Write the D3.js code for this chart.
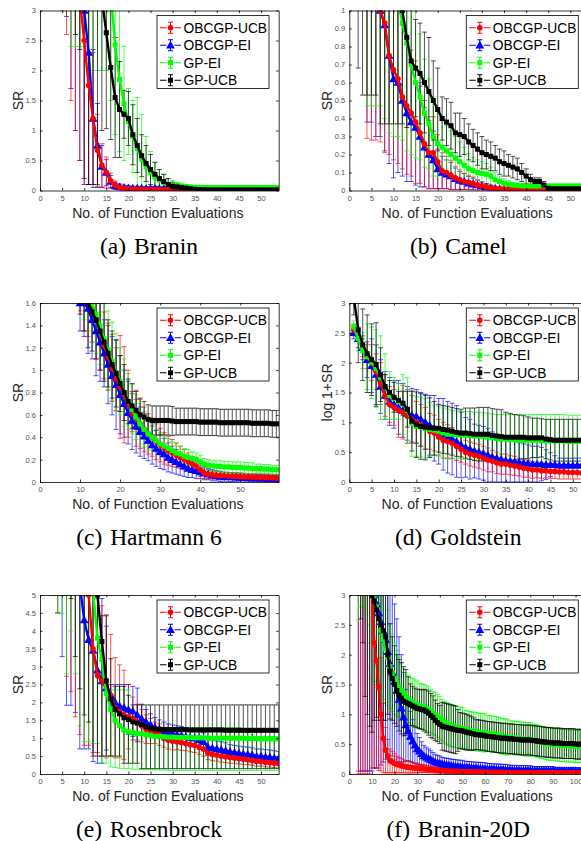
<!DOCTYPE html>
<html lang="en">
<head>
<meta charset="utf-8">
<title>Simple regret vs. function evaluations</title>
<script src="https://d3js.org/d3.v7.min.js"></script>
<style>
  body { margin: 0; background: #fff; }
  svg { display: block; }
</style>
</head>
<body>
<svg id="fig" width="581" height="841"></svg>
<script>

// ---------- tick labels ----------
var xTicks5 = [0, 5, 10, 15, 20, 25, 30, 35, 40, 45, 50];
var xTicks10 = [0, 10, 20, 30, 40, 50];
var xTicks100 = [0, 10, 20, 30, 40, 50, 60, 70, 80, 90, 100];
var yTicks3 = [0, 0.5, 1, 1.5, 2, 2.5, 3];
var yTicks1 = [0, 0.1, 0.2, 0.3, 0.4, 0.5, 0.6, 0.7, 0.8, 0.9, 1];
var yTicks16 = [0, 0.2, 0.4, 0.6, 0.8, 1, 1.2, 1.4, 1.6];
var yTicks5 = [0, 0.5, 1, 1.5, 2, 2.5, 3, 3.5, 4, 4.5, 5];

// ---------- series ----------
var seriesNames = ["OBCGP-UCB", "OBCGP-EI", "GP-EI", "GP-UCB"];
var seriesColors = ["#ff0000", "#0000ff", "#00ff00", "#000000"];
var seriesMarkers = ["circle", "triangle", "square", "square"];
var drawOrder = [1, 0, 2, 3];

// (a) Branin, x = 1..54
var braninUcbMean = [6.0,5.8,5.5,5.2,4.9,4.5,4.0,3.6,3.2,2.5, 1.75,1.2,0.67,0.42,0.3,0.16,0.09,0.05,0.035,0.025, 0.02,0.02,0.018,0.017,0.016,0.015,0.014,0.013,0.012,0.012, 0.011,0.011,0.01,0.01,0.01,0.01,0.009,0.009,0.009,0.009, 0.009,0.008,0.008,0.008,0.008,0.008,0.008,0.008,0.008,0.008, 0.008,0.008,0.008,0.008];
var braninUcbErr = [2.0,2.0,2.0,2.0,1.9,1.9,2.5,2.6,2.7,2.4, 1.65,1.1,0.6,0.36,0.26,0.13,0.07,0.045,0.03,0.025, 0.02,0.02,0.018,0.017,0.016,0.015,0.014,0.013,0.012,0.012, 0.011,0.011,0.01,0.01,0.01,0.01,0.01,0.01,0.01,0.01, 0.01,0.01,0.01,0.01,0.01,0.01,0.01,0.01,0.01,0.01, 0.01,0.01,0.01,0.01];
var braninEiMean = [6.5,6.2,6.0,5.8,5.5,5.0,4.5,4.0,3.5,3.0, 2.3,1.2,0.75,0.4,0.3,0.15,0.08,0.06,0.05,0.045, 0.04,0.04,0.038,0.036,0.035,0.034,0.033,0.032,0.031,0.03, 0.03,0.029,0.028,0.027,0.026,0.025,0.025,0.024,0.023,0.022, 0.022,0.021,0.02,0.02,0.02,0.02,0.019,0.019,0.018,0.018, 0.018,0.017,0.017,0.017];
var braninEiErr = [2.0,2.0,2.0,2.0,2.0,2.1,2.8,3.0,3.0,2.9, 2.2,1.15,0.7,0.35,0.22,0.1,0.06,0.05,0.04,0.035, 0.03,0.03,0.03,0.03,0.03,0.03,0.03,0.03,0.03,0.03, 0.028,0.028,0.027,0.026,0.025,0.025,0.025,0.024,0.023,0.022, 0.022,0.021,0.02,0.02,0.02,0.02,0.019,0.019,0.018,0.018, 0.018,0.017,0.017,0.017];
var braninGpEiMean = [6.5,6.3,6.1,5.9,5.7,5.5,5.0,5.0,5.0,5.0, 4.8,4.6,4.4,4.2,4.0,3.3,2.43,1.85,1.45,1.15, 0.9,0.7,0.52,0.4,0.3,0.22,0.17,0.13,0.1,0.09, 0.08,0.07,0.065,0.06,0.055,0.05,0.05,0.05,0.05,0.05, 0.05,0.05,0.05,0.05,0.05,0.05,0.05,0.05,0.05,0.05, 0.05,0.05,0.05,0.05];
var braninGpEiErr = [2.0,2.0,2.0,2.0,2.0,2.0,2.6,2.6,2.6,2.6, 2.6,2.6,2.4,2.2,2.0,1.8,1.5,1.2,0.95,0.55, 0.6,0.85,0.75,0.5,0.35,0.25,0.18,0.14,0.1,0.08, 0.06,0.05,0.04,0.03,0.025,0.02,0.02,0.02,0.02,0.02, 0.02,0.02,0.02,0.02,0.02,0.02,0.02,0.02,0.02,0.02, 0.02,0.02,0.02,0.02];
var braninGpUcbMean = [7.0,6.8,6.6,6.4,6.2,6.0,5.5,5.0,5.0,4.8, 4.5,4.2,3.8,3.2,2.63,2.05,1.55,1.35,1.27,1.2, 0.93,0.75,0.58,0.45,0.35,0.27,0.2,0.15,0.1,0.07, 0.06,0.05,0.04,0.03,0.02,0.015,0.012,0.01,0.01,0.01, 0.01,0.01,0.01,0.01,0.01,0.01,0.01,0.01,0.01,0.01, 0.01,0.01,0.01,0.01];
var braninGpUcbErr = [2.0,2.0,2.0,2.0,2.0,2.0,2.4,2.4,2.65,4.6, 4.4,4.1,3.7,2.2,1.6,1.2,1.0,0.8,0.4,0.45, 0.5,0.45,0.35,0.3,0.25,0.2,0.15,0.12,0.1,0.07, 0.06,0.05,0.04,0.03,0.02,0.015,0.012,0.01,0.01,0.01, 0.01,0.01,0.01,0.01,0.01,0.01,0.01,0.01,0.01,0.01, 0.01,0.01,0.01,0.01];

// (b) Camel, x = 1..54
var camelUcbMean = [1.6,1.5,1.4,1.2,1.15,1.1,1.0,0.93,0.75,0.67, 0.62,0.52,0.47,0.43,0.38,0.32,0.26,0.21,0.21,0.16, 0.11,0.1,0.085,0.07,0.06,0.05,0.045,0.04,0.03,0.025, 0.02,0.015,0.012,0.01,0.008,0.006,0.005,0.005,0.005,0.005, 0.005,0.004,0.004,0.004,0.004,0.004,0.004,0.004,0.004,0.004, 0.004,0.004,0.004,0.004];
var camelUcbErr = [0.5,0.4,0.3,0.91,0.87,0.82,0.73,0.72,0.55,0.5, 0.47,0.4,0.38,0.35,0.34,0.28,0.24,0.2,0.2,0.15, 0.1,0.09,0.08,0.065,0.055,0.045,0.04,0.035,0.028,0.022, 0.018,0.014,0.011,0.009,0.007,0.006,0.005,0.005,0.005,0.005, 0.005,0.004,0.004,0.004,0.004,0.004,0.004,0.004,0.004,0.004, 0.004,0.004,0.004,0.004];
var camelEiMean = [1.6,1.5,1.4,1.3,1.25,1.15,1.0,0.92,0.75,0.62, 0.6,0.5,0.43,0.38,0.35,0.3,0.24,0.2,0.17,0.12, 0.1,0.09,0.08,0.065,0.055,0.05,0.04,0.035,0.03,0.025, 0.02,0.015,0.012,0.01,0.008,0.006,0.005,0.005,0.004,0.004, 0.004,0.004,0.003,0.003,0.003,0.003,0.003,0.003,0.003,0.003, 0.003,0.003,0.003,0.003];
var camelEiErr = [0.5,0.4,0.3,0.92,0.87,0.85,0.7,0.7,0.6,0.55, 0.5,0.42,0.38,0.33,0.32,0.28,0.22,0.19,0.16,0.11, 0.09,0.08,0.075,0.06,0.05,0.045,0.038,0.033,0.028,0.023, 0.018,0.014,0.011,0.009,0.007,0.006,0.005,0.005,0.004,0.004, 0.004,0.004,0.003,0.003,0.003,0.003,0.003,0.003,0.003,0.003, 0.003,0.003,0.003,0.003];
var camelGpEiMean = [1.6,1.55,1.5,1.45,1.4,1.35,1.3,1.25,1.2,1.15, 1.05,0.93,0.82,0.7,0.6,0.52,0.43,0.37,0.3,0.26, 0.24,0.22,0.2,0.18,0.16,0.14,0.12,0.11,0.1,0.095, 0.09,0.08,0.06,0.05,0.04,0.035,0.03,0.028,0.026,0.025, 0.025,0.025,0.025,0.025,0.025,0.025,0.025,0.025,0.025,0.025, 0.025,0.025,0.025,0.025];
var camelGpEiErr = [0.4,0.4,0.4,0.98,0.93,0.88,0.83,0.85,0.88,0.85, 0.75,0.65,0.6,0.5,0.42,0.35,0.3,0.25,0.22,0.18, 0.15,0.14,0.13,0.12,0.11,0.1,0.085,0.075,0.07,0.065, 0.06,0.05,0.04,0.03,0.025,0.02,0.015,0.013,0.012,0.01, 0.01,0.01,0.01,0.01,0.01,0.01,0.01,0.01,0.01,0.01, 0.01,0.01,0.01,0.01];
var camelGpUcbMean = [1.8,1.7,1.6,1.55,1.5,1.45,1.4,1.35,1.3,1.2, 1.1,1.0,0.85,0.72,0.68,0.65,0.6,0.55,0.5,0.45, 0.4,0.38,0.36,0.32,0.31,0.3,0.27,0.25,0.23,0.21, 0.2,0.19,0.18,0.16,0.15,0.14,0.13,0.12,0.1,0.08, 0.06,0.05,0.05,0.03,0.012,0.01,0.01,0.01,0.01,0.01, 0.01,0.01,0.01,0.01];
var camelGpUcbErr = [0.7,1.02,1.07,1.02,0.97,0.92,1.03,0.98,0.93,0.83, 0.73,0.63,0.5,0.3,0.27,0.28,0.28,0.3,0.22,0.23, 0.12,0.13,0.13,0.11,0.12,0.1,0.1,0.09,0.09,0.09, 0.08,0.08,0.07,0.07,0.07,0.06,0.06,0.06,0.05,0.04, 0.03,0.02,0.02,0.02,0.01,0.01,0.01,0.01,0.01,0.01, 0.01,0.01,0.01,0.01];

// (c) Hartmann 6, x = 10..60
var hartUcbMean = [1.7,1.65,1.6,1.55,1.45,1.35,1.22,1.12,1.02,0.92, 0.85,0.78,0.7,0.62,0.57,0.52,0.47,0.43,0.4,0.36, 0.33,0.3,0.28,0.26,0.24,0.22,0.2,0.18,0.16,0.14, 0.11,0.08,0.07,0.065,0.06,0.058,0.056,0.054,0.052,0.05, 0.048,0.046,0.045,0.044,0.042,0.04,0.04,0.038,0.037,0.036, 0.035];
var hartUcbErr = [0.17,0.3,0.3,0.3,0.35,0.35,0.3,0.3,0.3,0.28, 0.46,0.43,0.3,0.17,0.25,0.22,0.2,0.18,0.17,0.16, 0.15,0.14,0.13,0.12,0.11,0.1,0.09,0.08,0.07,0.06, 0.06,0.05,0.04,0.04,0.035,0.035,0.03,0.03,0.03,0.03, 0.03,0.03,0.03,0.03,0.03,0.03,0.03,0.03,0.03,0.03, 0.03];
var hartEiMean = [1.6,1.6,1.55,1.45,1.35,1.25,1.15,1.05,0.95,0.87, 0.78,0.7,0.62,0.55,0.5,0.45,0.41,0.37,0.33,0.3, 0.27,0.25,0.22,0.2,0.18,0.16,0.14,0.12,0.11,0.1, 0.09,0.08,0.07,0.06,0.055,0.05,0.048,0.046,0.044,0.042, 0.04,0.038,0.036,0.035,0.034,0.033,0.032,0.031,0.03,0.03, 0.03];
var hartEiErr = [0.25,0.3,0.4,0.35,0.4,0.35,0.3,0.35,0.35,0.4, 0.35,0.3,0.28,0.26,0.24,0.22,0.2,0.18,0.17,0.16, 0.15,0.14,0.13,0.12,0.11,0.1,0.09,0.08,0.07,0.07, 0.06,0.06,0.05,0.05,0.045,0.045,0.04,0.04,0.04,0.04, 0.04,0.04,0.035,0.035,0.035,0.035,0.03,0.03,0.03,0.03, 0.03];
var hartGpEiMean = [1.9,1.8,1.7,1.6,1.5,1.4,1.28,1.18,1.08,0.98, 0.9,0.8,0.72,0.65,0.58,0.52,0.47,0.43,0.4,0.37, 0.34,0.32,0.3,0.28,0.26,0.25,0.23,0.22,0.21,0.2, 0.18,0.16,0.15,0.145,0.14,0.14,0.135,0.135,0.13,0.13, 0.13,0.125,0.125,0.12,0.12,0.12,0.115,0.115,0.11,0.11, 0.11];
var hartGpEiErr = [0.3,0.35,0.35,0.35,0.35,0.35,0.35,0.35,0.35,0.35, 0.3,0.3,0.25,0.22,0.2,0.18,0.16,0.14,0.12,0.1, 0.1,0.09,0.09,0.08,0.08,0.07,0.07,0.07,0.06,0.06, 0.06,0.05,0.05,0.05,0.05,0.05,0.05,0.05,0.05,0.05, 0.05,0.05,0.05,0.05,0.04,0.04,0.04,0.04,0.04,0.04, 0.04];
var hartGpUcbMean = [1.9,1.75,1.6,1.52,1.45,1.35,1.25,1.15,1.05,0.97, 0.88,0.8,0.72,0.68,0.64,0.6,0.58,0.56,0.55,0.55, 0.55,0.55,0.55,0.545,0.54,0.54,0.54,0.54,0.54,0.54, 0.535,0.535,0.535,0.535,0.535,0.53,0.53,0.53,0.53,0.53, 0.53,0.53,0.53,0.525,0.525,0.525,0.525,0.525,0.52,0.52, 0.52];
var hartGpUcbErr = [0.4,0.4,0.4,0.35,0.35,0.35,0.35,0.3,0.3,0.3, 0.25,0.25,0.2,0.2,0.17,0.15,0.14,0.13,0.13,0.13, 0.13,0.13,0.13,0.13,0.12,0.12,0.12,0.12,0.12,0.12, 0.12,0.12,0.12,0.12,0.12,0.12,0.12,0.12,0.12,0.12, 0.12,0.12,0.12,0.12,0.12,0.12,0.12,0.12,0.12,0.12, 0.12];

// (d) Goldstein, x = 1..54
var goldUcbMean = [2.55,2.45,2.25,2.1,2.0,1.85,1.65,1.45,1.3,1.25, 1.2,1.17,1.1,1.05,1.0,0.95,0.9,0.85,0.82,0.75, 0.7,0.68,0.65,0.6,0.55,0.5,0.47,0.45,0.43,0.4, 0.37,0.35,0.32,0.3,0.3,0.28,0.27,0.25,0.23,0.22, 0.2,0.2,0.19,0.19,0.18,0.18,0.17,0.17,0.16,0.16, 0.16,0.15,0.15,0.15];
var goldUcbErr = [0.1,0.1,0.15,0.2,0.3,0.3,0.35,0.35,0.3,0.3, 0.45,0.45,0.45,0.4,0.35,0.35,0.35,0.3,0.3,0.3, 0.3,0.28,0.26,0.24,0.22,0.2,0.2,0.2,0.2,0.2, 0.2,0.18,0.18,0.17,0.17,0.16,0.16,0.15,0.15,0.14, 0.14,0.13,0.13,0.12,0.12,0.12,0.12,0.12,0.11,0.11, 0.11,0.1,0.1,0.1];
var goldEiMean = [2.5,2.4,2.25,2.05,1.95,1.8,1.6,1.45,1.35,1.3, 1.25,1.2,1.15,1.12,1.1,1.05,1.0,0.95,0.9,0.85, 0.8,0.75,0.72,0.68,0.62,0.58,0.55,0.52,0.5,0.48, 0.45,0.42,0.4,0.38,0.36,0.35,0.34,0.33,0.32,0.31, 0.3,0.3,0.3,0.29,0.29,0.29,0.28,0.28,0.28,0.28, 0.28,0.28,0.28,0.28];
var goldEiErr = [0.1,0.15,0.2,0.3,0.45,0.5,0.45,0.4,0.4,0.4, 0.45,0.45,0.45,0.45,0.45,0.45,0.45,0.5,0.55,0.55, 0.6,0.6,0.6,0.6,0.55,0.5,0.5,0.45,0.45,0.45, 0.45,0.42,0.4,0.38,0.36,0.35,0.34,0.33,0.32,0.31, 0.3,0.3,0.28,0.25,0.2,0.15,0.12,0.12,0.12,0.12, 0.12,0.12,0.12,0.12];
var goldGpEiMean = [2.6,2.4,2.2,2.1,2.0,1.9,1.75,1.6,1.45,1.4, 1.35,1.3,1.2,0.98,0.93,0.92,0.9,0.88,0.87,0.85, 0.82,0.8,0.8,0.79,0.79,0.78,0.78,0.77,0.77,0.76, 0.75,0.74,0.73,0.72,0.72,0.71,0.71,0.7,0.7,0.7, 0.7,0.7,0.69,0.69,0.69,0.69,0.69,0.69,0.68,0.68, 0.68,0.68,0.68,0.68];
var goldGpEiErr = [0.1,0.2,0.3,0.55,0.6,0.65,0.7,0.55,0.4,0.35, 0.3,0.5,0.55,0.55,0.5,0.5,0.5,0.45,0.42,0.42, 0.42,0.42,0.4,0.4,0.4,0.4,0.4,0.4,0.4,0.4, 0.4,0.4,0.4,0.41,0.42,0.42,0.42,0.43,0.43,0.43, 0.43,0.43,0.44,0.44,0.44,0.44,0.44,0.44,0.44,0.44, 0.44,0.44,0.44,0.44];
var goldGpUcbMean = [3.1,2.55,2.3,2.15,2.05,1.97,1.8,1.6,1.5,1.42, 1.37,1.32,1.22,1.02,0.96,0.93,0.92,0.91,0.9,0.9, 0.88,0.87,0.85,0.83,0.82,0.82,0.81,0.8,0.8,0.8, 0.8,0.78,0.77,0.76,0.75,0.75,0.75,0.75,0.75,0.74, 0.74,0.74,0.74,0.72,0.71,0.7,0.7,0.7,0.7,0.7, 0.7,0.7,0.7,0.7];
var goldGpUcbErr = [0.3,0.55,0.6,0.65,0.6,0.7,0.45,0.2,0.2,0.25, 0.15,0.2,0.3,0.5,0.55,0.55,0.55,0.5,0.45,0.4, 0.4,0.4,0.4,0.4,0.4,0.42,0.43,0.44,0.45,0.45, 0.45,0.45,0.45,0.45,0.42,0.4,0.38,0.37,0.36,0.35, 0.33,0.33,0.32,0.33,0.34,0.35,0.35,0.35,0.35,0.35, 0.35,0.35,0.35,0.35];

// (e) Rosenbrock, x = 1..54 (GP runs have uneven lower / upper bounds)
var roseUcbMean = [9.0,8.5,8.0,7.5,7.0,6.0,5.6,5.4,5.2,5.1, 5.0,3.5,2.75,2.6,2.45,2.2,1.85,1.75,1.65,1.6, 1.55,1.45,1.35,1.25,1.2,1.15,1.1,1.0,0.95,0.92, 0.9,0.88,0.85,0.82,0.8,0.75,0.7,0.58,0.55,0.53, 0.5,0.48,0.46,0.45,0.43,0.42,0.4,0.38,0.36,0.35, 0.33,0.32,0.31,0.3];
var roseUcbErr = [3.0,3.0,3.0,3.0,2.0,3.27,3.3,3.8,4.1,4.3, 4.2,2.9,2.15,2.1,2.0,1.7,1.4,1.3,1.25,0.9, 0.6,0.5,0.45,0.4,0.35,0.3,0.3,0.25,0.25,0.25, 0.22,0.22,0.2,0.2,0.2,0.2,0.2,0.18,0.18,0.17, 0.17,0.16,0.16,0.15,0.15,0.15,0.14,0.14,0.14,0.13, 0.13,0.13,0.13,0.13];
var roseEiMean = [9.0,8.5,8.0,7.5,6.5,6.2,6.0,5.8,5.3,4.3, 3.75,3.45,2.9,2.6,2.4,2.2,2.0,1.9,1.85,1.8, 1.75,1.65,1.55,1.45,1.38,1.3,1.25,1.2,1.15,1.12, 1.1,1.08,1.05,1.02,1.0,0.95,0.9,0.75,0.72,0.7, 0.68,0.65,0.62,0.6,0.58,0.56,0.55,0.53,0.5,0.5, 0.48,0.47,0.45,0.43];
var roseEiErr = [3.0,3.0,3.0,3.0,3.22,4.28,4.08,4.08,4.6,3.6, 3.05,3.1,2.6,2.3,1.73,0.3,0.5,0.6,0.65,0.7, 0.7,0.75,0.4,0.35,0.3,0.28,0.26,0.25,0.25,0.25, 0.25,0.25,0.25,0.25,0.25,0.25,0.25,0.22,0.22,0.22, 0.22,0.22,0.2,0.2,0.2,0.2,0.2,0.2,0.2,0.2, 0.2,0.2,0.2,0.2];
var roseGpEiMean = [9.0,8.5,8.0,7.0,6.5,6.0,6.0,5.8,5.5,5.3, 5.2,5.1,3.8,3.2,2.25,1.8,1.5,1.35,1.23,1.18, 1.15,1.13,1.12,1.1,1.08,1.05,1.05,1.04,1.03,1.03, 1.02,1.02,1.02,1.02,1.01,1.01,1.01,1.0,1.0,1.0, 1.0,1.0,1.0,1.0,1.0,1.0,0.99,0.99,0.99,0.98, 0.98,0.98,0.98,0.98];
var roseGpEiHi = [11,10.5,10,9,8,7.5,7.5,7.3,7,6.8, 6.6,6.5,4.4,3.6,2.35,2.35,2.35,2.35,2.35,2.35, 1.7,1.45,1.37,1.35,1.33,1.3,1.3,1.3,1.3,1.3, 1.3,1.3,1.3,1.3,1.3,1.3,1.3,1.3,1.3,1.3, 1.3,1.3,1.3,1.3,1.3,1.25,1.15,1.1,1.05,1.05, 1.05,1.05,1.05,1.05];
var roseGpEiLo = [7,6.5,6,4.48,4.48,2.8,4.0,2.8,1.35,0.9, 0.9,0.85,0.85,0.32,0.3,0.2,0.18,0.16,0.15,0.15, 0.14,0.13,0.12,0.12,0.12,0.11,0.11,0.11,0.1,0.1, 0.1,0.1,0.1,0.1,0.1,0.1,0.1,0.1,0.1,0.1, 0.1,0.1,0.1,0.1,0.1,0.1,0.1,0.1,0.1,0.1, 0.1,0.1,0.1,0.1];
var roseGpUcbMean = [9.0,8.5,8.0,7.5,7.0,7.0,6.5,6.3,6.0,6.0, 5.8,5.5,5.0,3.7,2.6,2.1,1.8,1.68,1.57,1.52, 1.46,1.42,1.38,1.32,1.28,1.26,1.25,1.24,1.24,1.24, 1.24,1.24,1.24,1.23,1.23,1.23,1.23,1.23,1.23,1.23, 1.23,1.22,1.22,1.22,1.22,1.22,1.22,1.22,1.22,1.22, 1.22,1.22,1.22,1.22];
var roseGpUcbHi = [11,10.5,10,9.5,9,9,8.5,8.3,8,8, 7.8,7.5,7.2,4.42,4.42,3.22,2.45,2.45,2.45,2.2, 1.93,1.93,1.93,1.93,1.93,1.93,1.93,1.93,1.93,1.93, 1.93,1.93,1.93,1.93,1.93,1.93,1.93,1.93,1.93,1.93, 1.93,1.93,1.93,1.93,1.93,1.93,1.93,1.93,1.93,1.93, 1.93,1.93,1.93,1.93];
var roseGpUcbLo = [7,6.5,6,5.5,5,5,4.9,3.28,2.38,1.65, 1.45,0.5,0.5,0.5,0.5,0.5,0.5,0.5,0.3,0.3, 0.3,0.3,0.15,0.15,0.15,0.15,0.15,0.15,0.15,0.15, 0.15,0.15,0.15,0.15,0.15,0.15,0.15,0.15,0.15,0.15, 0.15,0.15,0.15,0.15,0.15,0.15,0.15,0.15,0.15,0.15, 0.15,0.15,0.15,0.15];

// (f) Branin-20D, x = 4..105
var b20UcbMean = [4.5,4.3,4.0,3.8,3.6,3.3,3.0,
  2.2,1.9,1.46,1.0,0.6,0.4,0.3,0.22,0.2,0.18,
  0.16,0.15,0.14,0.13,0.12,0.115,0.11,0.105,0.1,0.1,
  0.095,0.09,0.088,0.085,0.08,0.075,0.07,0.066,0.063,0.06,
  0.058,0.055,0.053,0.05,0.05,0.048,0.046,0.044,0.042,0.04,
  0.04,0.038,0.037,0.036,0.035,0.034,0.033,0.032,0.031,0.03,
  0.03,0.03,0.029,0.029,0.028,0.028,0.027,0.027,0.026,0.026,
  0.025,0.025,0.025,0.025,0.025,0.025,0.025,0.025,0.025,0.025,
  0.024,0.024,0.023,0.023,0.022,0.022,0.022,0.021,0.021,0.021,
  0.02,0.02,0.02,0.02,0.02,0.02,0.02,0.02,0.02,0.02,
  0.02,0.02,0.02,0.02,0.02];
var b20UcbErr = [4.5,4.3,4.0,3.8,3.6,3.3,2.9,
  2.1,1.8,1.4,0.95,0.58,0.38,0.28,0.2,0.18,0.16,
  0.14,0.13,0.12,0.11,0.1,0.1,0.09,0.09,0.08,0.08,
  0.07,0.07,0.065,0.06,0.06,0.055,0.05,0.05,0.045,0.045,
  0.04,0.04,0.04,0.04,0.04,0.04,0.04,0.04,0.04,0.04,
  0.035,0.035,0.035,0.035,0.035,0.035,0.035,0.035,0.035,0.035,
  0.03,0.03,0.03,0.03,0.03,0.03,0.03,0.03,0.03,0.03,
  0.03,0.03,0.03,0.03,0.03,0.03,0.03,0.03,0.03,0.03,
  0.025,0.025,0.025,0.025,0.025,0.025,0.025,0.025,0.025,0.025,
  0.025,0.025,0.025,0.025,0.025,0.025,0.025,0.025,0.025,0.025,
  0.025,0.025,0.025,0.025,0.025];
var b20EiMean = [5.0,4.8,4.5,4.3,4.0,3.7,3.4,
  3.0,2.85,2.7,2.55,2.4,2.25,2.05,1.85,1.7,1.55,
  1.4,1.25,1.1,0.95,0.82,0.72,0.63,0.55,0.48,0.42,
  0.38,0.34,0.3,0.28,0.26,0.24,0.22,0.2,0.19,0.18,
  0.17,0.16,0.155,0.15,0.14,0.135,0.13,0.125,0.12,0.12,
  0.115,0.11,0.11,0.105,0.1,0.1,0.095,0.095,0.09,0.09,
  0.085,0.085,0.08,0.08,0.078,0.076,0.074,0.072,0.07,0.068,
  0.066,0.065,0.064,0.063,0.062,0.061,0.06,0.06,0.06,0.06,
  0.055,0.055,0.055,0.055,0.055,0.055,0.055,0.055,0.055,0.055,
  0.05,0.05,0.05,0.05,0.05,0.05,0.05,0.05,0.05,0.05,
  0.045,0.045,0.045,0.045,0.045];
var b20EiErr = [4.95,4.75,4.45,4.25,3.95,3.65,3.35,
  2.9,2.75,2.6,2.4,2.2,2.0,1.8,1.6,1.4,1.3,
  1.2,1.05,0.9,0.75,0.6,0.5,0.42,0.36,0.3,0.26,
  0.23,0.2,0.18,0.17,0.16,0.15,0.14,0.13,0.12,0.12,
  0.11,0.11,0.11,0.11,0.11,0.11,0.11,0.11,0.11,0.11,
  0.1,0.1,0.1,0.1,0.1,0.1,0.1,0.1,0.1,0.1,
  0.09,0.09,0.09,0.09,0.09,0.09,0.09,0.09,0.09,0.09,
  0.08,0.08,0.08,0.08,0.08,0.08,0.08,0.08,0.08,0.08,
  0.07,0.07,0.07,0.07,0.07,0.07,0.07,0.07,0.07,0.07,
  0.06,0.06,0.06,0.06,0.06,0.06,0.06,0.06,0.06,0.06,
  0.06,0.06,0.06,0.06,0.06];
var b20GpEiMean = [5.5,5.3,5.0,4.7,4.3,3.8,3.1,
  2.95,2.8,2.6,2.4,2.25,2.1,1.95,1.8,1.7,1.6,
  1.52,1.46,1.4,1.35,1.3,1.26,1.22,1.2,1.18,1.16,
  1.14,1.13,1.12,1.1,1.08,1.05,1.02,1.0,0.97,0.94,
  0.9,0.87,0.85,0.83,0.81,0.8,0.79,0.78,0.77,0.76,
  0.75,0.74,0.73,0.72,0.72,0.71,0.7,0.7,0.69,0.69,
  0.68,0.68,0.67,0.67,0.66,0.65,0.64,0.63,0.62,0.62,
  0.61,0.61,0.6,0.6,0.6,0.59,0.59,0.58,0.58,0.58,
  0.57,0.56,0.55,0.54,0.53,0.52,0.51,0.5,0.5,0.5,
  0.49,0.49,0.48,0.48,0.48,0.47,0.47,0.47,0.47,0.46,
  0.46,0.46,0.46,0.46,0.46];
var b20GpEiErr = [2.92,2.5,2.2,2.0,1.8,1.6,1.5,
  1.4,1.3,1.2,1.1,1.0,0.9,0.8,0.7,0.65,0.6,
  0.55,0.5,0.45,0.42,0.4,0.4,0.4,0.4,0.4,0.4,
  0.38,0.38,0.38,0.38,0.38,0.36,0.36,0.36,0.36,0.36,
  0.35,0.35,0.35,0.35,0.35,0.35,0.35,0.35,0.35,0.35,
  0.32,0.32,0.32,0.32,0.32,0.32,0.32,0.32,0.32,0.32,
  0.3,0.3,0.3,0.3,0.3,0.3,0.3,0.3,0.3,0.3,
  0.28,0.28,0.28,0.28,0.28,0.28,0.28,0.28,0.28,0.28,
  0.27,0.27,0.27,0.27,0.27,0.27,0.27,0.27,0.27,0.27,
  0.27,0.27,0.27,0.27,0.27,0.27,0.27,0.27,0.27,0.27,
  0.27,0.27,0.27,0.27,0.27];
var b20GpUcbMean = [6.0,5.6,5.2,4.8,4.4,3.8,3.0,
  2.9,2.75,2.6,2.5,2.4,2.3,2.0,1.72,1.6,1.5,
  1.4,1.32,1.27,1.22,1.2,1.18,1.16,1.14,1.12,1.1,
  1.09,1.08,1.07,1.05,1.02,0.98,0.95,0.9,0.86,0.83,
  0.8,0.79,0.78,0.77,0.76,0.75,0.74,0.73,0.73,0.72,
  0.71,0.7,0.69,0.68,0.67,0.66,0.66,0.65,0.65,0.64,
  0.63,0.63,0.62,0.62,0.61,0.61,0.6,0.6,0.6,0.59,
  0.59,0.59,0.58,0.58,0.58,0.57,0.57,0.57,0.57,0.57,
  0.56,0.56,0.55,0.55,0.54,0.54,0.53,0.53,0.53,0.52,
  0.52,0.52,0.52,0.51,0.51,0.51,0.51,0.51,0.51,0.5,
  0.5,0.5,0.5,0.5,0.5];
var b20GpUcbErr = [3.0,3.0,3.0,3.5,3.4,3.0,2.3,
  2.0,1.8,1.7,1.6,1.5,1.4,1.0,0.8,0.7,0.65,
  0.6,0.6,0.6,0.58,0.55,0.45,0.35,0.33,0.32,0.32,
  0.33,0.33,0.35,0.36,0.37,0.37,0.36,0.34,0.32,0.32,
  0.4,0.4,0.4,0.4,0.4,0.4,0.4,0.35,0.3,0.3,
  0.3,0.3,0.29,0.28,0.27,0.25,0.25,0.25,0.25,0.25,
  0.25,0.25,0.25,0.25,0.25,0.25,0.25,0.25,0.25,0.25,
  0.25,0.25,0.25,0.25,0.25,0.25,0.25,0.25,0.25,0.25,
  0.25,0.25,0.25,0.25,0.25,0.25,0.25,0.25,0.25,0.25,
  0.25,0.25,0.25,0.25,0.25,0.25,0.25,0.25,0.25,0.25,
  0.25,0.25,0.25,0.25,0.25];

// ---------- panel setup ----------
function series(x0, mean, err, lo, hi) {
  return { x0: x0, mean: mean, err: err, lo: lo, hi: hi };
}

var panels = [
  { cap: "(a)\u2004Branin", ylab: "SR", left: 40, top: 10.5, bottom: 190.5, xMax: 54, yMax: 3,
    xTicks: xTicks5, yTicks: yTicks3,
    series: [series(1, braninUcbMean, braninUcbErr), series(1, braninEiMean, braninEiErr),
             series(1, braninGpEiMean, braninGpEiErr), series(1, braninGpUcbMean, braninGpUcbErr)] },
  { cap: "(b)\u2004Camel", ylab: "SR", left: 349.3, top: 10.5, bottom: 190.5, xMax: 54, yMax: 1,
    xTicks: xTicks5, yTicks: yTicks1,
    series: [series(1, camelUcbMean, camelUcbErr), series(1, camelEiMean, camelEiErr),
             series(1, camelGpEiMean, camelGpEiErr), series(1, camelGpUcbMean, camelGpUcbErr)] },
  { cap: "(c)\u2004Hartmann 6", ylab: "SR", left: 40, top: 303, bottom: 482, xMax: 59.6, yMax: 1.6,
    xTicks: xTicks10, yTicks: yTicks16,
    series: [series(10, hartUcbMean, hartUcbErr), series(10, hartEiMean, hartEiErr),
             series(10, hartGpEiMean, hartGpEiErr), series(10, hartGpUcbMean, hartGpUcbErr)] },
  { cap: "(d)\u2004Goldstein", ylab: "log 1+SR", left: 349.3, top: 303, bottom: 482, xMax: 53.4, yMax: 3,
    xTicks: xTicks5, yTicks: yTicks3,
    series: [series(1, goldUcbMean, goldUcbErr), series(1, goldEiMean, goldEiErr),
             series(1, goldGpEiMean, goldGpEiErr), series(1, goldGpUcbMean, goldGpUcbErr)] },
  { cap: "(e)\u2004Rosenbrock", ylab: "SR", left: 40, top: 595, bottom: 774, xMax: 54, yMax: 5,
    xTicks: xTicks5, yTicks: yTicks5,
    series: [series(1, roseUcbMean, roseUcbErr), series(1, roseEiMean, roseEiErr),
             series(1, roseGpEiMean, null, roseGpEiLo, roseGpEiHi),
             series(1, roseGpUcbMean, null, roseGpUcbLo, roseGpUcbHi)] },
  { cap: "(f)\u2004Branin-20D", ylab: "SR", left: 349.3, top: 595, bottom: 774, xMax: 105.5, yMax: 3,
    xTicks: xTicks100, yTicks: yTicks3,
    series: [series(4, b20UcbMean, b20UcbErr), series(4, b20EiMean, b20EiErr),
             series(4, b20GpEiMean, b20GpEiErr), series(4, b20GpUcbMean, b20GpUcbErr)] }
];

var plotW = 238.7;
var sans = "'Liberation Sans', Arial, Helvetica, sans-serif";
var serif = "'Liberation Serif', 'Times New Roman', serif";
var svg = d3.select("#fig");

function drawMarker(sel, type, cx, cy, color) {
  if (type === "circle") {
    sel.append("circle").attr("cx", cx).attr("cy", cy).attr("r", 2.8).attr("fill", color);
  } else if (type === "triangle") {
    sel.append("path").attr("d", d3.symbol(d3.symbolTriangle, 34)())
      .attr("transform", "translate(" + cx + "," + (cy + 0.7) + ")").attr("fill", color);
  } else {
    sel.append("rect").attr("x", cx - 2.5).attr("y", cy - 2.5)
      .attr("width", 5).attr("height", 5).attr("fill", color);
  }
}

panels.forEach(function (p, pi) {
  var h = p.bottom - p.top;
  var x = d3.scaleLinear().domain([0, p.xMax]).range([0, plotW]);
  var y = d3.scaleLinear().domain([0, p.yMax]).range([h, 0]);

  var g = svg.append("g").attr("transform", "translate(" + p.left + "," + p.top + ")");
  g.append("rect").attr("width", plotW).attr("height", h).attr("fill", "#fff");
  g.append("clipPath").attr("id", "clip" + pi)
    .append("rect").attr("width", plotW).attr("height", h);
  var plot = g.append("g").attr("clip-path", "url(#clip" + pi + ")");

  // error bars first
  drawOrder.forEach(function (si) {
    var s = p.series[si];
    var d = "";
    s.mean.forEach(function (m, i) {
      var xi = x(s.x0 + i);
      var lo = s.lo ? s.lo[i] : m - s.err[i];
      var hi = s.hi ? s.hi[i] : m + s.err[i];
      var y0 = Math.min(y(lo), h + 20), y1 = Math.max(y(hi), -20);
      d += "M" + xi + "," + y0 + "V" + y1 +
           "M" + (xi - 2.5) + "," + y0 + "h5" +
           "M" + (xi - 2.5) + "," + y1 + "h5";
    });
    plot.append("path").attr("d", d).attr("fill", "none")
      .attr("stroke", seriesColors[si]).attr("stroke-width", 0.9).attr("stroke-opacity", 0.75);
  });

  // mean lines with markers
  drawOrder.forEach(function (si) {
    var s = p.series[si];
    var pts = s.mean.map(function (m, i) { return [x(s.x0 + i), y(m)]; });
    plot.append("path").attr("d", d3.line()(pts)).attr("fill", "none")
      .attr("stroke", seriesColors[si]).attr("stroke-width", 2.4);
    var mk = plot.append("g");
    pts.forEach(function (pt) {
      if (pt[1] > -5 && pt[1] < h + 5) drawMarker(mk, seriesMarkers[si], pt[0], pt[1], seriesColors[si]);
    });
  });

  // box axes, ticks inside
  var ax = g.append("g");
  ax.append("g").attr("transform", "translate(0," + h + ")")
    .call(d3.axisBottom(x).tickValues(p.xTicks).tickSize(-2.5).tickSizeOuter(0).tickPadding(4.7).tickFormat(d3.format("~g")));
  ax.append("g")
    .call(d3.axisTop(x).tickValues(p.xTicks).tickSize(-2.5).tickSizeOuter(0).tickFormat(""));
  ax.append("g")
    .call(d3.axisLeft(y).tickValues(p.yTicks).tickSize(-2.5).tickSizeOuter(0).tickPadding(4).tickFormat(d3.format("~g")));
  ax.append("g").attr("transform", "translate(" + plotW + ",0)")
    .call(d3.axisRight(y).tickValues(p.yTicks).tickSize(-2.5).tickSizeOuter(0).tickFormat(""));
  ax.selectAll(".domain, .tick line").attr("stroke", "#000").attr("stroke-width", 0.8);
  ax.selectAll(".tick text").attr("font-family", sans).attr("font-size", 7.5).attr("fill", "#555");

  // legend
  var lg = g.append("g").attr("transform", "translate(117,5)");
  lg.append("rect").attr("width", 112).attr("height", 73)
    .attr("fill", "#fff").attr("stroke", "#000").attr("stroke-width", 0.8);
  seriesNames.forEach(function (name, si) {
    var cy = 12.25 + si * 17.5;
    var c = seriesColors[si];
    lg.append("path").attr("d", "M3," + cy + "H9.5M17.5," + cy + "H24")
      .attr("stroke", c).attr("stroke-width", 1.2);
    lg.append("path").attr("d", "M13.5," + (cy - 5.5) + "V" + (cy + 5.5) + "M11," + (cy - 5.5) + "h5M11," + (cy + 5.5) + "h5")
      .attr("stroke", c).attr("stroke-width", 1).attr("fill", "none");
    drawMarker(lg, seriesMarkers[si], 13.5, cy, c);
    lg.append("text").attr("x", 26.5).attr("y", cy).attr("dy", "0.36em")
      .attr("font-family", sans).attr("font-size", 13.8).attr("fill", "#000").text(name);
  });

  // axis labels and caption
  g.append("text").attr("x", plotW / 2 - 1.5).attr("y", h + 27).attr("text-anchor", "middle")
    .attr("font-family", sans).attr("font-size", 14).attr("fill", "#262626")
    .text("No. of Function Evaluations");
  g.append("text").attr("transform", "translate(-17," + (h / 2) + ") rotate(-90)")
    .attr("text-anchor", "middle").attr("font-family", sans).attr("font-size", 14).attr("fill", "#262626")
    .text(p.ylab);
  g.append("text").attr("x", 109).attr("y", h + 63).attr("text-anchor", "middle")
    .attr("font-family", serif).attr("font-size", 23.5).attr("fill", "#000")
    .text(p.cap);
});

</script>
</body>
</html>
